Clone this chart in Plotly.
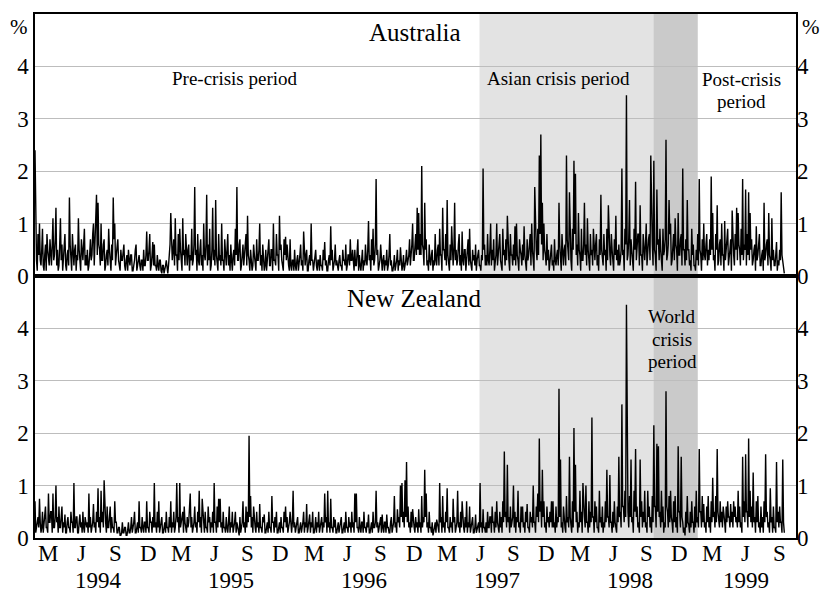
import pandas as pd
import plotly.graph_objects as go

# ---------------------------------------------------------------------------
# Absolute daily exchange-rate changes (%), sampled in half-year windows.
# ---------------------------------------------------------------------------
SEGMENTS = [
    ("1994-02-07", "1994-07-01"),
    ("1994-07-01", "1995-01-01"),
    ("1995-01-01", "1995-07-01"),
    ("1995-07-01", "1996-01-01"),
    ("1996-01-01", "1996-07-01"),
    ("1996-07-01", "1997-01-01"),
    ("1997-01-01", "1997-07-01"),
    ("1997-07-01", "1998-01-01"),
    ("1998-01-01", "1998-07-01"),
    ("1998-07-01", "1999-01-01"),
    ("1999-01-01", "1999-07-01"),
    ("1999-07-01", "1999-10-01"),
]

# Australia
aus_94a = [2.4, 0.6, 0.3, 0.1, 0.8, 0.4, 1.0, 0.3, 0.2, 0.5, 0.9, 0.2, 0.1, 0.4, 0.6, 0.1, 0.8, 0.5,
           0.3, 0.2, 0.7, 0.4, 0.2, 0.6, 1.1, 0.3, 0.4, 0.7, 1.3, 0.2, 0.5, 0.1, 0.2, 0.6, 1.1, 0.3,
           0.6, 0.1, 0.3, 0.5, 0.8, 0.2, 0.1, 0.4, 0.5, 0.2, 1.5, 0.6, 0.3, 0.1, 0.8, 0.4, 0.2, 0.5,
           0.6, 0.1, 0.4, 0.3, 1.1, 0.5, 0.2, 0.1, 0.7, 0.3, 0.3, 0.6, 0.9, 0.2, 0.4, 0.2]
aus_94b = [0.5, 0.1, 0.2, 0.4, 0.7, 0.3, 0.4, 0.8, 1.0, 0.2, 0.6, 0.9, 1.55, 0.4, 1.4, 0.6, 0.5, 0.2,
           1.0, 0.3, 0.3, 0.6, 0.7, 0.1, 0.2, 0.4, 0.5, 0.2, 0.9, 0.5, 0.3, 0.1, 0.6, 0.3, 1.5, 0.7,
           1.0, 0.2, 0.4, 0.6, 0.7, 0.3, 0.2, 0.1, 0.5, 0.3, 0.3, 0.5, 0.6, 0.2, 0.1, 0.3, 0.4, 0.1,
           0.5, 0.3, 0.2, 0.4, 0.4, 0.1, 0.1, 0.2, 0.3, 0.5, 0.6, 0.1, 0.2, 0.3, 0.4, 0.2, 0.1, 0.3,
           0.3, 0.1, 0.5, 0.2, 0.2, 0.4, 0.85, 0.3, 0.3, 0.5, 0.8, 0.1, 0.2, 0.4, 0.65, 0.2]
aus_95a = [0.6, 0.2, 0.2, 0.1, 0.4, 0.2, 0.1, 0.3, 0.3, 0.1, 0.05, 0.2, 0.2, 0.05, 0.1, 0.2, 0.3, 0.1,
           0.05, 0.2, 0.4, 0.6, 1.2, 0.3, 0.3, 0.5, 0.7, 0.2, 1.1, 0.4, 0.4, 0.1, 0.8, 0.3, 0.9, 0.5,
           0.3, 0.1, 1.1, 0.4, 0.5, 0.2, 0.8, 0.3, 0.2, 0.5, 0.6, 0.1, 0.4, 0.3, 0.9, 0.2, 0.3, 0.6,
           1.7, 0.4, 0.5, 0.1, 0.8, 0.3, 0.2, 0.5, 0.7, 0.2, 0.4, 0.1, 1.0, 0.4, 0.3, 0.6, 1.55, 0.2,
           0.6, 0.3, 0.9, 0.1, 0.2, 0.5, 1.3, 0.3, 0.5, 0.2, 1.45, 0.4, 0.3, 0.1, 0.8, 0.3]
aus_95b = [0.4, 0.2, 1.0, 0.3, 0.3, 0.1, 0.7, 0.4, 0.2, 0.5, 0.8, 0.2, 0.4, 0.1, 0.6, 0.3, 0.1, 0.4,
           0.5, 0.2, 0.9, 0.4, 1.7, 0.3, 0.3, 0.6, 0.7, 0.1, 0.2, 0.4, 0.6, 0.2, 0.4, 0.5, 0.8, 0.2,
           1.15, 0.4, 0.3, 0.1, 0.5, 0.3, 0.1, 0.2, 0.6, 0.4, 0.2, 0.1, 0.7, 0.3, 0.3, 0.5, 1.0, 0.2,
           0.4, 0.1, 0.6, 0.3, 0.1, 0.2, 0.5, 0.1, 0.3, 0.4, 0.7, 0.2, 0.2, 0.5, 0.5, 0.1, 1.0, 0.3,
           0.3, 0.2, 0.8, 0.4, 0.4, 0.1, 1.15, 0.5, 0.6, 0.3, 0.2, 0.1, 0.7, 0.4, 0.75, 0.3]
aus_96a = [0.6, 0.3, 0.2, 0.1, 0.7, 0.2, 0.1, 0.3, 0.3, 0.1, 0.5, 0.2, 0.1, 0.3, 0.4, 0.1, 0.2, 0.4,
           0.6, 0.2, 0.3, 0.1, 0.85, 0.3, 0.2, 0.4, 0.5, 0.1, 0.1, 0.3, 0.4, 0.2, 1.0, 0.3, 0.3, 0.1,
           0.2, 0.4, 0.5, 0.2, 0.1, 0.3, 0.3, 0.1, 0.4, 0.2, 0.2, 0.1, 0.5, 0.3, 0.65, 0.2, 0.3, 0.1,
           0.1, 0.3, 0.4, 0.2, 0.95, 0.3, 0.5, 0.1, 0.2, 0.3, 0.6, 0.2, 0.3, 0.1, 0.1, 0.3, 0.4, 0.2,
           0.2, 0.1, 0.5, 0.3, 0.3, 0.2, 0.6, 0.1, 0.2, 0.4, 0.4, 0.2, 0.7, 0.3, 0.3, 0.5]
aus_96b = [0.3, 0.1, 0.5, 0.2, 0.2, 0.4, 0.7, 0.1, 0.4, 0.2, 0.1, 0.3, 0.5, 0.1, 0.3, 0.2, 0.6, 0.3,
           0.2, 0.5, 1.05, 0.3, 0.4, 0.1, 0.7, 0.3, 0.9, 0.2, 0.3, 0.6, 1.85, 0.4, 0.5, 0.1, 0.2, 0.3,
           0.6, 0.2, 0.1, 0.3, 0.4, 0.1, 0.3, 0.2, 0.5, 0.1, 0.2, 0.4, 0.8, 0.2, 0.3, 0.1, 0.1, 0.2,
           0.4, 0.1, 0.2, 0.3, 0.5, 0.1, 0.3, 0.2, 0.55, 0.3, 0.1, 0.2, 0.4, 0.1, 0.2, 0.3, 0.5, 0.2,
           0.3, 0.4, 0.7, 0.2, 0.4, 0.6, 1.0, 0.3, 0.3, 0.5, 0.8, 0.4, 1.3, 0.5, 1.2, 0.4]
aus_97a = [0.8, 0.4, 2.1, 0.6, 0.5, 0.2, 1.4, 0.5, 0.7, 0.2, 0.3, 0.1, 0.6, 0.3, 0.2, 0.4, 0.5, 0.1,
           0.3, 0.2, 0.8, 0.3, 0.2, 0.5, 0.6, 0.2, 0.9, 0.4, 0.4, 0.1, 1.3, 0.5, 0.5, 0.3, 0.8, 0.2,
           1.45, 0.4, 0.3, 0.1, 0.6, 0.3, 0.95, 0.2, 0.2, 0.5, 1.4, 0.3, 0.5, 0.2, 0.3, 0.6, 0.8, 0.2,
           0.4, 0.1, 0.85, 0.3, 0.2, 0.5, 0.5, 0.1, 0.3, 0.4, 0.7, 0.2, 0.9, 0.3, 0.2, 0.1, 0.5, 0.3,
           0.4, 0.2, 0.6, 0.1, 0.3, 0.4, 0.5, 0.2, 0.2, 0.1, 0.4, 0.3, 2.05, 0.5, 0.6, 0.2]
aus_97b = [0.4, 0.2, 0.8, 0.3, 0.2, 0.5, 1.0, 0.2, 0.5, 0.3, 0.7, 0.1, 0.3, 0.4, 1.0, 0.2, 0.4, 0.6,
           0.8, 0.3, 0.2, 0.1, 0.9, 0.4, 0.5, 0.2, 0.7, 0.3, 1.15, 0.5, 0.3, 0.1, 0.8, 0.4, 0.4, 0.2,
           0.6, 0.3, 0.95, 0.2, 1.0, 0.4, 0.3, 0.1, 0.7, 0.5, 0.4, 0.2, 0.6, 0.3, 0.95, 0.4, 0.2, 0.1,
           0.7, 0.3, 0.4, 0.6, 0.8, 0.2, 1.0, 0.5, 0.3, 0.1, 1.7, 0.6, 0.5, 0.3, 0.9, 0.4, 2.3, 0.8,
           2.7, 0.6, 1.4, 0.3, 1.0, 0.5, 0.4, 0.2, 0.8, 0.3, 0.5, 0.1, 0.3, 0.4, 0.6, 0.2]
aus_98a = [0.3, 0.1, 0.7, 0.3, 0.2, 0.4, 0.5, 0.2, 1.4, 0.6, 0.4, 0.1, 0.8, 0.3, 0.2, 0.5, 0.6, 0.2,
           2.3, 0.7, 0.5, 0.3, 1.6, 0.4, 0.3, 0.1, 0.9, 0.5, 2.2, 0.8, 1.95, 0.4, 0.6, 0.2, 1.2, 0.5,
           0.4, 0.1, 0.9, 0.3, 0.3, 0.6, 1.4, 0.4, 0.6, 0.2, 1.1, 0.5, 0.2, 0.1, 0.8, 0.4, 0.5, 0.2,
           0.9, 0.3, 0.3, 0.6, 0.8, 0.2, 0.4, 0.1, 0.7, 0.4, 1.55, 0.5, 0.3, 0.2, 0.8, 0.4, 0.5, 0.1,
           0.9, 0.3, 1.35, 0.6, 0.4, 0.2, 0.8, 0.5, 0.3, 0.1, 0.7, 0.4, 1.15, 0.3, 0.5, 0.2]
aus_98b = [0.6, 0.2, 0.3, 0.5, 2.05, 0.4, 0.5, 0.1, 0.9, 0.6, 3.45, 0.3, 0.4, 0.7, 1.45, 0.2, 0.7, 0.4,
           0.3, 0.1, 0.9, 0.5, 1.8, 0.3, 0.5, 0.8, 0.8, 0.2, 1.35, 0.4, 0.4, 0.1, 0.8, 0.5, 0.3, 0.6,
           1.0, 0.2, 0.5, 0.7, 0.8, 0.3, 2.3, 0.9, 0.6, 0.2, 2.2, 0.5, 0.4, 0.1, 1.65, 0.6, 0.7, 0.3,
           0.9, 0.5, 0.3, 0.1, 0.9, 0.4, 0.5, 0.7, 2.6, 0.3, 0.4, 0.6, 1.45, 0.8, 1.0, 0.2, 0.3, 0.5,
           0.8, 0.3, 1.1, 0.6, 0.5, 0.1, 1.2, 0.4, 0.4, 0.7, 0.8, 0.2, 2.05, 0.5, 0.5, 0.2]
aus_99a = [0.7, 0.3, 1.45, 0.5, 0.5, 0.2, 0.3, 0.1, 0.9, 0.4, 0.6, 0.2, 0.2, 0.1, 0.5, 0.3, 0.8, 0.2,
           1.85, 0.5, 0.4, 0.1, 0.7, 0.3, 1.0, 0.4, 0.3, 0.6, 0.8, 0.2, 0.5, 0.3, 0.7, 0.4, 1.9, 0.5,
           1.2, 0.3, 0.4, 0.1, 0.8, 0.5, 1.35, 0.2, 0.3, 0.6, 0.7, 0.2, 1.0, 0.4, 0.4, 0.1, 1.05, 0.3,
           0.5, 0.6, 0.9, 0.2, 0.3, 0.5, 0.7, 0.1, 1.25, 0.4, 0.4, 0.2, 0.8, 0.5, 1.3, 0.3, 1.2, 0.6,
           0.5, 0.2, 0.9, 0.4, 1.85, 0.3, 0.6, 0.5, 1.65, 0.2, 0.8, 0.4, 1.6, 0.3, 1.2, 0.5]
aus_99b = [0.7, 0.2, 0.3, 0.5, 0.6, 0.1, 0.95, 0.3, 0.4, 0.6, 0.8, 0.2, 0.2, 0.4, 0.5, 0.1, 1.4, 0.3,
           0.4, 0.6, 0.7, 0.2, 1.2, 0.4, 0.3, 0.1, 1.1, 0.3, 0.5, 0.2, 0.2, 0.4, 0.65, 0.1, 0.3, 0.2,
           0.5, 0.3, 1.6, 0.4, 0.3, 0.2, 0.05]

# New Zealand
nz_94a = [0.7, 0.1, 0.2, 0.4, 0.4, 0.2, 0.75, 0.3, 0.1, 0.2, 0.5, 0.1, 0.3, 0.4, 0.6, 0.2, 0.2, 0.1,
          0.85, 0.3, 0.3, 0.5, 0.5, 0.1, 0.85, 0.2, 0.2, 0.4, 1.0, 0.3, 0.4, 0.1, 0.6, 0.2, 0.2, 0.4,
          0.6, 0.1, 0.3, 0.2, 0.45, 0.1, 0.1, 0.3, 0.4, 0.2, 0.2, 0.1, 0.5, 0.3, 0.3, 0.1, 1.05, 0.2,
          0.2, 0.4, 0.4, 0.1, 0.1, 0.3, 0.45, 0.2, 0.3, 0.1, 0.5, 0.2, 0.1, 0.4, 0.3, 0.2]
nz_94b = [0.3, 0.1, 0.85, 0.2, 0.4, 0.1, 0.2, 0.3, 0.65, 0.2, 0.3, 0.1, 0.5, 0.3, 0.95, 0.2, 0.4, 0.1,
          0.9, 0.3, 0.5, 0.2, 1.1, 0.4, 0.3, 0.1, 0.6, 0.2, 0.2, 0.4, 0.6, 0.1, 0.4, 0.2, 0.2, 0.1,
          0.7, 0.3, 0.3, 0.1, 0.1, 0.2, 0.2, 0.05, 0.05, 0.1, 0.3, 0.1, 0.1, 0.2, 0.2, 0.05, 0.05, 0.15,
          0.3, 0.1, 0.1, 0.2, 0.4, 0.1, 0.2, 0.3, 0.5, 0.1, 0.1, 0.2, 0.3, 0.1, 0.7, 0.2, 0.2, 0.1,
          0.4, 0.2, 0.1, 0.3, 0.3, 0.1, 0.7, 0.2, 0.2, 0.1, 0.5, 0.3, 0.3, 0.1, 0.4, 0.2]
nz_95a = [1.05, 0.2, 0.3, 0.1, 0.5, 0.2, 0.7, 0.1, 0.2, 0.3, 0.4, 0.1, 0.1, 0.2, 0.3, 0.1, 0.5, 0.2,
          0.2, 0.1, 0.4, 0.2, 0.7, 0.1, 0.3, 0.2, 0.5, 0.1, 0.2, 0.4, 1.05, 0.3, 0.4, 0.1, 1.05, 0.2,
          0.3, 0.4, 0.5, 0.1, 0.6, 0.3, 0.2, 0.1, 0.4, 0.2, 0.3, 0.5, 0.85, 0.2, 0.4, 0.1, 0.2, 0.3,
          0.6, 0.2, 0.3, 0.1, 0.5, 0.3, 0.9, 0.2, 0.4, 0.1, 0.75, 0.3, 0.3, 0.1, 0.5, 0.2, 0.2, 0.1,
          0.6, 0.3, 0.4, 0.1, 0.3, 0.2, 0.5, 0.1, 1.05, 0.3, 0.3, 0.1, 0.6, 0.2, 0.75, 0.3]
nz_95b = [0.75, 0.2, 0.3, 0.1, 0.5, 0.2, 0.2, 0.1, 0.4, 0.2, 0.1, 0.3, 0.6, 0.1, 0.3, 0.2, 0.5, 0.1,
          0.2, 0.3, 0.5, 0.1, 0.3, 0.2, 0.1, 0.05, 0.4, 0.1, 0.2, 0.3, 0.7, 0.2, 0.3, 0.1, 0.6, 0.2,
          0.5, 0.3, 1.95, 0.4, 0.8, 0.2, 0.4, 0.1, 0.6, 0.3, 0.2, 0.1, 0.5, 0.2, 0.3, 0.1, 0.65, 0.2,
          0.2, 0.1, 0.4, 0.3, 0.45, 0.1, 0.1, 0.2, 0.3, 0.1, 0.5, 0.2, 0.2, 0.1, 0.8, 0.3, 0.3, 0.1,
          0.4, 0.2, 0.5, 0.1, 0.1, 0.2, 0.3, 0.1, 0.4, 0.2, 0.2, 0.1, 0.5, 0.3, 0.6, 0.2]
nz_96a = [0.4, 0.1, 0.2, 0.3, 0.5, 0.2, 0.1, 0.3, 0.9, 0.2, 0.3, 0.1, 0.2, 0.3, 0.4, 0.1, 0.1, 0.2,
          0.3, 0.1, 0.2, 0.3, 0.5, 0.1, 0.3, 0.2, 0.65, 0.1, 0.2, 0.3, 0.45, 0.1, 0.3, 0.2, 0.5, 0.1,
          0.1, 0.2, 0.4, 0.1, 0.3, 0.2, 0.5, 0.1, 0.2, 0.3, 0.4, 0.1, 0.3, 0.2, 0.85, 0.3, 0.4, 0.1,
          0.9, 0.2, 0.3, 0.1, 0.75, 0.2, 0.2, 0.1, 0.4, 0.2, 0.35, 0.1, 0.1, 0.2, 0.3, 0.1, 0.2, 0.3,
          0.4, 0.1, 0.1, 0.2, 0.3, 0.1, 0.5, 0.2, 0.2, 0.1, 0.4, 0.2, 0.3, 0.1, 0.5, 0.2]
nz_96b = [0.3, 0.1, 0.85, 0.3, 0.85, 0.2, 0.2, 0.1, 0.4, 0.2, 0.1, 0.3, 0.3, 0.1, 0.5, 0.2, 0.2, 0.1,
          0.3, 0.2, 0.45, 0.1, 0.1, 0.2, 0.3, 0.1, 0.5, 0.2, 0.2, 0.3, 0.9, 0.2, 0.3, 0.1, 0.2, 0.3,
          0.4, 0.1, 0.45, 0.2, 0.1, 0.3, 0.3, 0.1, 0.45, 0.2, 0.2, 0.1, 0.1, 0.3, 0.4, 0.1, 0.2, 0.3,
          0.8, 0.2, 0.3, 0.1, 0.55, 0.3, 0.4, 0.2, 1.0, 0.4, 1.05, 0.3, 0.5, 0.2, 1.1, 0.4, 1.45, 0.3,
          0.6, 0.2, 0.3, 0.1, 0.5, 0.2, 0.55, 0.3, 0.2, 0.1, 0.4, 0.2, 0.3, 0.1, 0.55, 0.2]
nz_97a = [0.3, 0.1, 0.8, 0.2, 0.4, 0.3, 1.3, 0.4, 0.85, 0.2, 0.3, 0.1, 0.5, 0.2, 0.2, 0.1, 0.3, 0.05,
          0.1, 0.2, 0.3, 0.1, 0.35, 0.2, 0.2, 0.1, 1.05, 0.3, 0.4, 0.1, 0.8, 0.2, 0.3, 0.1, 0.5, 0.3,
          0.95, 0.2, 0.2, 0.1, 0.4, 0.2, 0.3, 0.1, 0.75, 0.3, 0.4, 0.1, 0.2, 0.3, 0.9, 0.2, 0.3, 0.1,
          0.5, 0.2, 0.7, 0.3, 0.2, 0.1, 0.4, 0.2, 0.7, 0.1, 0.3, 0.2, 0.6, 0.1, 0.2, 0.3, 0.4, 0.1,
          0.1, 0.2, 0.45, 0.1, 0.2, 0.3, 0.3, 0.1, 1.05, 0.2, 0.3, 0.1, 0.55, 0.2, 0.2, 0.1]
nz_97b = [0.3, 0.1, 0.5, 0.2, 0.2, 0.4, 0.4, 0.1, 0.6, 0.3, 0.3, 0.1, 0.5, 0.2, 0.7, 0.3, 0.2, 0.1,
          0.5, 0.2, 0.4, 0.1, 0.7, 0.3, 1.65, 0.4, 0.5, 0.2, 1.4, 0.3, 0.4, 0.1, 0.6, 0.2, 0.3, 0.4,
          1.0, 0.2, 0.5, 0.1, 0.4, 0.3, 0.9, 0.2, 0.3, 0.1, 0.6, 0.3, 0.6, 0.2, 0.3, 0.1, 0.5, 0.3,
          0.65, 0.2, 0.2, 0.1, 0.5, 0.3, 0.4, 0.2, 1.0, 0.3, 0.3, 0.1, 0.6, 0.4, 0.85, 0.3, 1.9, 0.5,
          0.7, 0.2, 1.3, 0.4, 0.7, 0.2, 0.3, 0.1, 0.6, 0.3, 0.4, 0.2, 0.5, 0.3, 0.7, 0.2]
nz_98a = [0.7, 0.2, 0.3, 0.1, 0.6, 0.2, 0.4, 0.3, 2.85, 0.4, 1.5, 0.2, 0.3, 0.1, 0.6, 0.3, 0.2, 0.1,
          0.8, 0.3, 0.4, 0.2, 1.55, 0.4, 0.3, 0.1, 0.7, 0.2, 2.1, 0.5, 1.4, 0.3, 0.5, 0.1, 0.3, 0.2,
          0.9, 0.3, 0.5, 0.1, 1.05, 0.4, 0.4, 0.2, 1.0, 0.3, 0.3, 0.1, 0.7, 0.2, 0.5, 0.3, 2.3, 0.4,
          0.4, 0.1, 0.7, 0.3, 0.6, 0.2, 0.2, 0.1, 0.9, 0.3, 0.4, 0.2, 0.6, 0.1, 0.3, 0.2, 0.7, 0.3,
          1.3, 0.4, 0.4, 0.2, 1.2, 0.3, 0.3, 0.1, 0.5, 0.2, 0.7, 0.3, 0.2, 0.1, 0.6, 0.3]
nz_98b = [1.55, 0.4, 0.5, 0.2, 2.55, 0.6, 0.6, 0.3, 0.9, 0.4, 4.45, 0.7, 0.5, 0.2, 0.8, 0.4, 1.5, 0.3,
          0.4, 0.1, 0.9, 0.5, 1.7, 0.4, 0.6, 0.2, 0.3, 0.1, 1.5, 0.4, 0.7, 0.2, 0.5, 0.3, 0.9, 0.2,
          0.3, 0.1, 0.9, 0.4, 0.6, 0.2, 0.4, 0.1, 0.8, 0.3, 2.15, 0.6, 0.6, 0.2, 1.8, 0.5, 1.75, 0.4,
          0.5, 0.2, 0.9, 0.3, 0.6, 0.1, 0.3, 0.2, 2.8, 0.6, 0.5, 0.2, 0.8, 0.3, 0.9, 0.4, 0.3, 0.1,
          0.7, 0.3, 0.8, 0.2, 0.4, 0.1, 1.75, 0.5, 0.5, 0.2, 1.55, 0.4, 0.3, 0.1, 0.2, 0.05]
nz_99a = [0.5, 0.2, 0.8, 0.3, 0.25, 0.1, 0.5, 0.2, 0.7, 0.3, 0.3, 0.1, 0.6, 0.2, 0.9, 0.3, 0.4, 0.2,
          1.7, 0.5, 0.5, 0.2, 0.8, 0.3, 0.65, 0.2, 0.3, 0.1, 0.6, 0.3, 0.8, 0.2, 0.4, 0.1, 0.7, 0.3,
          1.15, 0.4, 0.5, 0.2, 0.8, 0.3, 1.7, 0.5, 0.4, 0.2, 0.7, 0.3, 0.5, 0.2, 0.6, 0.3, 0.3, 0.1,
          0.6, 0.3, 0.7, 0.4, 0.4, 0.2, 0.65, 0.3, 0.5, 0.2, 0.7, 0.4, 0.6, 0.3, 0.4, 0.2, 0.9, 0.3,
          0.6, 0.2, 0.3, 0.1, 1.55, 0.4, 0.7, 0.3, 1.6, 0.5, 0.5, 0.2, 1.9, 0.4, 0.9, 0.3]
nz_99b = [0.6, 0.2, 1.25, 0.3, 0.4, 0.1, 0.7, 0.3, 0.8, 0.2, 0.3, 0.1, 0.6, 0.2, 0.4, 0.1, 0.7, 0.3,
          1.6, 0.4, 0.5, 0.2, 0.3, 0.1, 0.95, 0.3, 0.4, 0.1, 0.6, 0.2, 0.2, 0.1, 1.45, 0.3, 0.5, 0.2,
          0.6, 0.3, 0.3, 0.1, 1.5, 0.3, 0.1]

AUS = [aus_94a, aus_94b, aus_95a, aus_95b, aus_96a, aus_96b,
       aus_97a, aus_97b, aus_98a, aus_98b, aus_99a, aus_99b]
NZ = [nz_94a, nz_94b, nz_95a, nz_95b, nz_96a, nz_96b,
      nz_97a, nz_97b, nz_98a, nz_98b, nz_99a, nz_99b]

# Crisis periods shaded on both panels
ASIAN_CRISIS = ("1997-06-13", "1998-10-04")
WORLD_CRISIS = ("1998-10-04", "1999-02-03")

# Quarter labels and year captions
TICK_MONTHS = {3: "M", 6: "J", 9: "S", 12: "D"}
YEARS = [1994, 1995, 1996, 1997, 1998, 1999]
YEAR_LABEL_DATES = ["1994-07-31", "1995-07-31", "1996-07-31",
                    "1997-07-31", "1998-07-31", "1999-06-15"]

X_RANGE = ["1994-02-07", "1999-10-31"]
Y_TICKS = [0, 1, 2, 3, 4]


def build_series(blocks):
    xs, ys = [], []
    for (start, end), vals in zip(SEGMENTS, blocks):
        dates = pd.date_range(start, end, periods=len(vals) + 1)[:-1]
        xs.extend(dates)
        ys.extend(vals)
    return xs, ys


aus_x, aus_y = build_series(AUS)
nz_x, nz_y = build_series(NZ)

tick_vals, tick_text = [], []
for yr in YEARS:
    for m, lab in TICK_MONTHS.items():
        d = pd.Timestamp(year=yr, month=m, day=15)
        if d <= pd.Timestamp("1999-09-30"):
            tick_vals.append(d)
            tick_text.append(lab)

SERIF = "Liberation Serif, Times New Roman, serif"
GRID = "#bdbdbd"
LINE = dict(color="black", width=1.4)

fig = go.Figure()
fig.add_trace(go.Scatter(x=aus_x, y=aus_y, mode="lines", xaxis="x", yaxis="y",
                         line=LINE, hoverinfo="skip"))
fig.add_trace(go.Scatter(x=nz_x, y=nz_y, mode="lines", xaxis="x2", yaxis="y2",
                         line=LINE, hoverinfo="skip"))
# carriers for the right-hand tick labels
fig.add_trace(go.Scatter(x=[], y=[], xaxis="x", yaxis="y3", hoverinfo="skip"))
fig.add_trace(go.Scatter(x=[], y=[], xaxis="x2", yaxis="y4", hoverinfo="skip"))

frame = dict(showline=True, mirror=True, linecolor="black", linewidth=1.5)
y_common = dict(range=[0, 5], tickvals=Y_TICKS, ticks="", zeroline=False,
                showgrid=True, gridcolor=GRID, gridwidth=1, **frame)
y_right = dict(range=[0, 5], tickvals=Y_TICKS, ticks="", zeroline=False,
               showgrid=False, showline=False, side="right")

fig.update_layout(
    width=824, height=592,
    margin=dict(l=35, r=28, t=12, b=54),
    plot_bgcolor="white", paper_bgcolor="white",
    font=dict(family=SERIF, color="black", size=23),
    showlegend=False,
    xaxis=dict(domain=[0, 1], anchor="y", range=X_RANGE, showticklabels=False,
               showgrid=False, ticks="", zeroline=False, **frame),
    xaxis2=dict(domain=[0, 1], anchor="y2", range=X_RANGE, matches="x",
                showticklabels=False, ticks="",
                showgrid=False, zeroline=False, **frame),
    yaxis=dict(domain=[0.5, 1], anchor="x", **y_common),
    yaxis2=dict(domain=[0, 0.5], anchor="x2", **y_common),
    yaxis3=dict(overlaying="y", anchor="x", **y_right),
    yaxis4=dict(overlaying="y2", anchor="x2", **y_right),
)

for (x0, x1), col in [(ASIAN_CRISIS, "#e3e3e3"), (WORLD_CRISIS, "#cacaca")]:
    fig.add_shape(type="rect", xref="x", yref="paper", x0=x0, x1=x1, y0=0, y1=1,
                  fillcolor=col, line=dict(width=0), layer="below")


def px_x(px):
    return (px - 35) / 761


def px_y(py):
    return (538 - py) / 526


notes = [
    ("Australia", 415, 31, 25),
    ("New Zealand", 414, 298, 25),
    ("Pre-crisis period", 235, 77, 19),
    ("Asian crisis period", 558, 77, 19),
    ("Post-crisis", 741, 78, 19),
    ("period", 741, 100, 19),
    ("World", 672, 316, 19),
    ("crisis", 672, 339, 19),
    ("period", 672, 361, 19),
]
for text, px, py, size in notes:
    fig.add_annotation(text=text, x=px_x(px), y=px_y(py), xref="paper", yref="paper",
                       xanchor="center", yanchor="middle", showarrow=False,
                       font=dict(family=SERIF, size=size, color="black"))

for side, x, anchor, shift in [("l", 0, "right", -5), ("r", 1, "left", 4)]:
    fig.add_annotation(text="%", x=x, y=1, xref="paper", yref="paper",
                       xanchor=anchor, yanchor="middle", xshift=shift, yshift=-13,
                       showarrow=False, font=dict(family=SERIF, size=21, color="black"))

# month letters under the time axis
for d, lab in zip(tick_vals, tick_text):
    fig.add_annotation(text=lab, x=d, y=0, xref="x2", yref="paper",
                       xanchor="center", yanchor="middle", yshift=-15, height=17,
                       showarrow=False, font=dict(family=SERIF, size=23, color="black"))

# year captions below the month letters
for yr, d in zip(YEARS, YEAR_LABEL_DATES):
    fig.add_annotation(text=str(yr), x=d, y=0, xref="x2", yref="paper",
                       xanchor="center", yanchor="middle", yshift=-42, height=17,
                       showarrow=False, font=dict(family=SERIF, size=23, color="black"))

fig.write_html("out.html")
